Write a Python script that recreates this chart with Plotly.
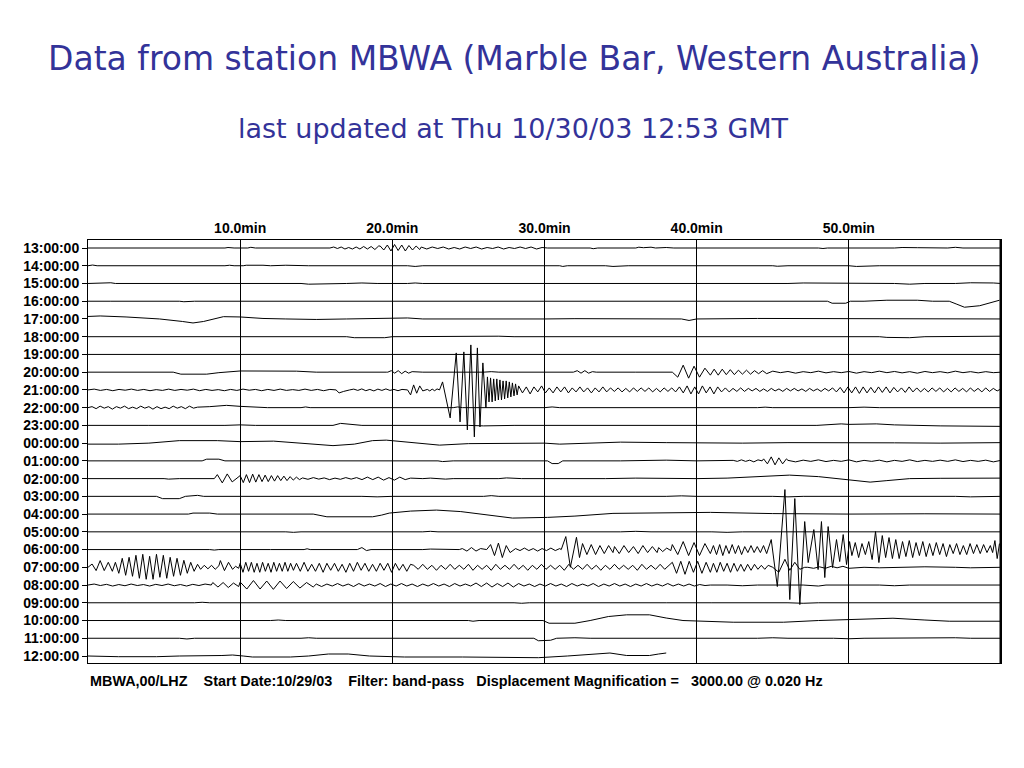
import numpy as np
import plotly.graph_objects as go

# ---------------- data ----------------
row_labels = ["13:00:00", "14:00:00", "15:00:00", "16:00:00", "17:00:00", "18:00:00",
              "19:00:00", "20:00:00", "21:00:00", "22:00:00", "23:00:00", "00:00:00",
              "01:00:00", "02:00:00", "03:00:00", "04:00:00", "05:00:00", "06:00:00",
              "07:00:00", "08:00:00", "09:00:00", "10:00:00", "11:00:00", "12:00:00"]
minute_ticks = [10, 20, 30, 40, 50]
minute_text = ["10.0min", "20.0min", "30.0min", "40.0min", "50.0min"]

# each trace: list of parts; ("p", [(minute, counts), ...]) anchor points,
# ("w", t_start, t_end, [counts ...]) evenly sampled wiggle values read off the record
tr_13 = [("p", [(0, 0), (0.8, 0), (1.0, -0.7), (1.2, 0), (5.9, 0), (6.0, -0.7), (6.1, 0), (9, 0), (9.2, 0.5), (9.6, 0),
                (10.5, 0), (10.7, 0.7), (11, 0), (13.5, 0), (13.7, 0.5), (14, 0), (15.5, 0)]),
         ("w", 15.9, 19.1, [0, 1, -0.5, 1, -1, 0.5, -1, 1, -1, 1.5, -1, 1.5, -1.5, 2]),
         ("w", 19.2, 21.8, [2, -2, 3, -3, 3.5, -2.5, 3, -3, 2.5, -2, 2, -1.5]),
         ("w", 21.9, 30.2, [1, -1, 1, -0.5, 1, -1, 0.5, -1, 1, -0.5, 1, -1, 0.5, -0.5, 1, -1, 0.5, -0.5, 1, -0.5, 1, -1, 0.5, 0]),
         ("p", [(31, 0), (31.3, 0.7), (31.6, 0), (33, 0), (33.2, -0.7), (33.5, 0), (36, 0), (36.2, 0.8), (36.5, 0.3), (37, 0.8),
                (37.3, 0), (38, 0.5), (38.5, 0), (40, 0), (40.5, 0.5), (41.5, 0.5), (42, 0), (45, 0), (45.3, 0.5), (46, 0),
                (48, 0), (48.3, -0.5), (48.6, 0), (53, 0), (53.5, 0.5), (54.5, 0.3), (55.5, 0), (56.5, 0), (57, 0.7), (57.5, 0), (60, 0)])]
tr_14 = [("p", [(0, 0), (0.3, 0.7), (0.6, 0), (4.5, 0), (4.6, -0.7), (4.8, 0), (9, 0), (9.3, 0.5), (9.6, 0), (10.2, 0), (10.4, 0.5),
                (11.5, 0.5), (12, 0), (13, 0.5), (14.5, 0), (21, 0), (21.5, -0.7), (22, 0), (25, 0), (25.3, 0.7), (26, 0),
                (28, 0), (28.2, 0.7), (28.6, 0), (31, 0), (31.2, -0.7), (31.5, 0), (34, 0), (34.5, -0.7), (35.5, 0), (38, 0),
                (38.5, 0.7), (39, 0), (45, 0), (45.3, -0.5), (46, 0), (50, 0), (50.5, -0.7), (52, 0), (54, 0), (55, -0.7), (56, 0), (60, 0)])]
tr_15 = [("p", [(0, 0), (1.5, 0.7), (1.8, 0), (10, 0), (10.3, 0.7), (10.8, 0), (14, 0), (14.5, -0.7), (16, -0.7), (17, 0), (18, 0.5),
                (19, 0), (21, 0), (21.5, 0.5), (22, 0), (26, 0), (26.5, -0.7), (27, 0), (33, 0), (33.5, -0.7), (35, 0), (40, 0),
                (40.5, -0.7), (42, 0), (46, 0), (47, 0.5), (49, 0.5), (50, 0), (53, 0), (54, -0.7), (55, 0), (57, 0), (58, 0.7),
                (59.5, 0.5), (60, 0)])]
tr_16 = [("p", [(0, 0), (1, 0.5), (1.5, 0), (6, 0), (6.3, -0.5), (7, 0), (13, 0), (13.5, 0.7), (15, 0.5), (16, 0), (22, 0), (24, 0.5),
                (25, 0), (27, 0), (29, 0.7), (30, 0), (34, 0.5), (35, 0), (40, 0), (41, 0.5), (43, 0), (48.6, 0), (48.9, -2),
                (49.8, -2), (50.1, 0), (51, 0), (52.5, 1), (54.5, 1), (55.5, 0), (56.6, 0), (57.1, -3), (57.6, -6), (58.6, -4.5),
                (59.3, -1.5), (59.9, 1)])]
tr_17 = [("p", [(0, 2.5), (0.8, 3), (2.5, 2), (4.7, 0), (6.2, -2.5), (6.9, -4), (7.6, -2.5), (8.9, 2.3), (10, 2), (11.5, 0.5),
                (13, 0), (15, -0.5), (17, 0), (20, 0.5), (21, 1), (22, 0), (26, 0), (27, -0.7), (30, 0), (32, 0.3), (39, 0),
                (39.5, -1.5), (40, 0), (44, 0.5), (50, 0.5), (51, 0), (54, 0.5), (60, 0)])]
tr_18 = [("p", [(0, 0), (5, 0), (5.2, 0.5), (6, 0.5), (6.3, 0), (10, 0), (12, 0.7), (12.5, 0), (17, 0), (17.5, -1), (19.5, -1),
                (20, 0), (23, 0.5), (27, 0.5), (28, 0), (32, 0), (33, 0.7), (34, 0), (40, 0), (42, 0.7), (43, 0), (52, 0),
                (52.5, -0.7), (54, -1), (55, 0), (57, 0.5), (60, 0.5)])]
tr_19 = [("p", [(0, 0), (5, 0), (5.5, 0.7), (6.5, 0), (27, 0), (28, 0.5), (29, 0), (42, 0), (44, 0.5), (45, 0), (53, 0),
                (54, 0.7), (55, 0), (60, 0)])]
tr_20 = [("p", [(0, 0), (5.6, 0), (6.1, -2), (7.8, -2), (8.6, -0.5), (10, 1.2), (13.7, 1), (15, 0), (19.6, 0)]),
         ("w", 19.7, 21.3, [0, 1.5, -1, 1.5, -1.5, 1, -1, 0.5]),
         ("p", [(22, 0), (26, 0), (26.5, 0.5), (27, 0), (31.8, 0)]),
         ("w", 31.9, 33.4, [0, 1.5, -1, 1.5, -1, 0.5, 0]),
         ("p", [(36, 0), (38.2, 0)]),
         ("w", 38.4, 40.9, [0, -5, 7, -6, 6, -5, 4, -3]),
         ("w", 41.15, 44.6, [3, -3, 3, -2.5, 2.5, -2.5, 2, -2, 2, -2, 1.5, -1.5, 1.5, -1.5]),
         ("w", 45, 60, [1, -0.5, 0.7, -1, 0.5, -0.5, 1, -0.7, 0.5, -0.5, 0.7, -1, 0.5, -0.5, 1, -0.5, 0.7, -0.7, 0.5, -1,
                        0.7, -0.5, 0.5, -0.7, 1, -0.5, 0.5, -0.7, 0.5, -0.5, 0])]
tr_21 = [("w", 0, 16.3, [0, 0.8, -0.5, 0.5, -0.8, 0.5, -0.3, 0.8, -0.5, 0.5, -0.8, 0.3, -0.5, 0.8, -0.5, 0.5, -0.3, 0.8, -0.8,
                         0.5, -0.5, 0.3, -0.8, 0.5, -0.5, 0.8, -0.3, 0.5, -0.8, 0.5, -0.5, 0.8, -0.5, 0.3, -0.5, 0.8, -0.5,
                         0.5, -0.8, 0.5, 0]),
         ("p", [(16.5, -3), (16.8, -1.5), (17.1, 0)]),
         ("w", 17.2, 20.9, [0, 0.8, -0.5, 1, -0.8, 0.5, -1, 0.8, -0.5, 1, -0.5, 0.5, -0.8, 0.5, 0]),
         ("w", 21.0, 22.2, [0, -5, 5, -3.3, 4, -1, 0]),
         ("w", 22.3, 23.1, [0.5, -1, 0.8, -0.8, 1, 0]),
         ("p", [(23.3, 8), (23.8, -28), (24.2, 37), (24.45, -32), (24.7, 38), (24.93, -40), (25.16, 45), (25.39, -47),
                (25.59, 42), (25.76, -37), (25.95, 27), (26.15, -18)]),
         ("w", 26.25, 28.2, [13, -12, 12, -12, 11, -11, 11, -10, 10, -10, 9, -9, 9, -8, 8, -7, 7, -6, 6, -5]),
         ("w", 28.3, 60, [4, -3, 3, -4, 3, -2, 4, -3, 2, -3, 3, -2, 3, -3, 2, -2,
                          3, -2, 2, -3, 2, -2, 3, -2, 2, -1.5, 2, -2, 1.5, -2, 2, -1.5,
                          2, -1.5, 2, -2, 1.5, -2, 2, -1.5, 2, -2, 3, -3, 4, -4, 3, -4,
                          4, -3, 3, -4, 3, -2, 2, -2, 1.5, -1.5, 2, -1.5, 1.5, -1, 1.5, -1.5,
                          1, -1.5, 1.5, -1, 1, -1.5, 1.5, -1, 1.5, -1, 1, -1.5, 1.5, -1, 1, -1.5,
                          1.5, -1, 2, -2, 2.5, -3, 3, -3, 3, -3.5, 3, -3, 2.5, -3, 3, -2.5,
                          3, -3, 2.5, -2, 2, -2.5, 3, -2, 2, -2, 1.5, -2, 2, -1.5, 2, -2,
                          1.5, -2, 2, -1.5, 1.5, -2, 2, -1.5, 1.5, -2, 2, -1.5, 1.5, -1, 1])]
tr_22 = [("w", 0, 7.2, [0, 1, -1, 1.5, -0.5, 1, -1.5, 1, -0.5, 1.5, -1, 0.5, -1, 1.5, -0.5, 1, -1.5, 1, -1, 0.5, -1, 1.5,
                        -0.5, 1, -1, 1.5, -0.5, 0.5]),
         ("p", [(8, 1), (9.1, 2.3), (10, 1.3), (11.8, 0), (14, 0), (14.3, 0.7), (14.6, 0), (18, 0), (18.5, -0.7), (19, 0),
                (24, 0), (24.3, 0.7), (24.6, 0), (30, 0), (30.5, 0.7), (31, 0), (37, 0), (37.5, -0.5), (38, 0), (44, 0),
                (44.5, 0.5), (45, 0), (50, 0), (51, 0.5), (52, 0), (56, 0), (57, -0.5), (58, 0), (60, 0)])]
tr_23 = [("p", [(0, 0), (3, 0.5), (4, 0), (9, 0), (10, 0.5), (11, 0), (16.1, 0), (16.6, 2), (17.3, 1), (18, 0), (25, 0),
                (26, -0.5), (28, 0), (32, 0), (36, 0.5), (37, 0), (42, 0), (47.9, 0), (49.5, 1.5), (50, 1), (51.8, 1.5),
                (53, 0.5), (56, -0.5), (60, -1)])]
tr_00 = [("p", [(0, -1), (2, -1), (4, 0), (6, 2.5), (8.5, 2.5), (10, 1.5), (12.2, 2), (14, 0), (16.1, -2.5), (17.5, -1),
                (18.7, 2.5), (19.6, 3), (21, 1), (23.1, -2), (25, -0.5), (27, 0), (30, 0), (31, -1), (33, 0), (35, 1),
                (38, 0.5), (40, 0), (43, 0), (46, 0.5), (50, 0), (53, 0.3), (56, 0), (60, 0.5)])]
tr_01 = [("p", [(0, 0), (3, 0), (3.3, 0.5), (4, 0), (7.5, 0), (7.8, 1.7), (8.6, 1.7), (9, 0), (12, 0), (12.3, 0.5), (13, 0),
                (18, 0), (18.5, 0.7), (19, 0), (23, 0), (23.3, -0.7), (24, 0), (30.2, 0), (30.5, -2.7), (30.9, -2.7),
                (31.2, 0), (35, 0), (38, 0.7), (40, 0), (42.3, 0)]),
         ("w", 42.4, 44.3, [0.5, -0.5, 1, -0.5, 0.7, -1, 1, 0]),
         ("w", 44.4, 45.9, [2, -3, 4, -4, 3, -3, 2]),
         ("w", 46, 60, [0.5, -1, 0.7, -0.5, 1, -0.7, 0.5, -0.5, 1, -1, 0.5, -0.5, 0.7, -1, 0.5, -0.5, 1, -0.7, 0.5,
                        -0.5, 0.7, -0.5, 1, -0.7, 0.5, -0.5, 0.7, -1, 0.5])]
tr_02 = [("p", [(0, 0), (2, 0), (2.3, 0.7), (2.6, 0), (5, 0), (5.3, -0.5), (6, 0), (8.3, 0)]),
         ("w", 8.5, 9.8, [4, -4.3, 4.7, -3.3, 1]),
         ("w", 10, 13.9, [3, -4, 4, -4, 4.5, -3.5, 4, -3, 3.5, -3, 3, -2.5, 3, -2, 2.5, -2, 2, -1.5, 1.5, -1]),
         ("w", 14.1, 21.2, [0.7, -0.7, 1, -0.5, 0.7, -1, 0.5, -0.7, 1, -0.5, 1, -1, 1.5, -1, 1.5, -1.5, 1, -1.5, 1.5, -1, 0.5]),
         ("p", [(22, 0), (22.5, 0.5), (23.5, -0.5), (24, 0), (27, 0), (27.5, 0.7), (28.5, 0), (32, 0), (33, -0.5), (34, 0),
                (36, 0.5), (38, 0), (40, 0), (42, 0.5), (44, 2), (46.1, 3.5), (48, 2), (50, -1), (51.4, -3.5), (52.5, -2),
                (54, 0), (56, 0.3), (60, 0.5)])]
tr_03 = [("p", [(0, 0), (4.5, 0), (4.9, -2.3), (6, -2.3), (6.4, 0), (7.2, 1), (7.6, 0), (12, 0), (12.5, 0.5), (13, 0), (18, 0),
                (19, -0.5), (20, 0), (26, 0), (26.5, 0.7), (27, 0), (32, 0), (32.5, -0.5), (33, 0), (38, 0), (39, 0.5),
                (40, 0), (45, 0), (46, -0.5), (47, 0), (50, 0), (52, 0.5), (53, 0), (57, 0), (58, -0.5), (60, 0)])]
tr_04 = [("p", [(0, 0), (6.6, 0), (6.9, 1), (8, 1), (8.5, 0), (14.8, 0), (15.7, -2.7), (18.7, -2.7), (19.3, -1), (19.8, 1),
                (21.2, 3), (22.9, 4), (24.5, 2.5), (26.5, -1.5), (27.9, -4), (30.2, -3.3), (32, -2), (34.5, 0.7),
                (40.9, 1.7), (45, 0.5), (50, 0), (55, 0.3), (60, 0)])]
tr_05 = [("p", [(0, 0), (10.7, 0), (11, 0.7), (11.5, 0), (13, 0), (13.5, -0.5), (14, 0), (22, 0), (22.5, 0.5), (23, 0),
                (28, 0), (28.5, -0.5), (29, 0), (35, 0), (36, 0.5), (37, 0), (41, 0), (42, -0.5), (43, 0), (49, 0),
                (50, 0.5), (51, 0), (55, 0), (56, 0.5), (57, 0), (60, 0)])]
tr_06 = [("p", [(0, 0), (3, 0), (3.3, 0.5), (3.6, 0), (8, 0), (8.3, -0.5), (8.6, 0), (12, 0), (14.2, 0), (14.4, 0.8),
                (14.6, 0), (17.7, 0), (18, 2), (18.3, -1), (18.6, 0), (22, 0), (22.5, 0.5), (24.4, 0)]),
         ("w", 24.6, 25.8, [1, -1.5, 2, -1.5, 1]),
         ("w", 26.2, 28.0, [0, 5, -6, 6.5, -8, 4, -3, 0]),
         ("w", 28.1, 31.0, [1, -1, 1.5, -1, 1, -1.5, 1, -1, 1.5, -1, 1]),
         ("p", [(31.1, 0), (31.4, 13), (31.7, -17.7), (32.1, 12.3), (32.3, -8)]),
         ("w", 32.5, 34.5, [6, -5, 5, -5, 4, -4, 4, -3]),
         ("w", 34.6, 37.4, [3, -4, 4, -3, 3, -4, 4, -3, 3, -3]),
         ("w", 37.5, 38.3, [2, -2, 1.5, -1]),
         ("w", 38.4, 40.9, [5, -5, 8, -6, 7, -6, 6, -4]),
         ("w", 41.1, 44.6, [4, -5, 5, -6, 4, -4, 5, -4, 4, -5, 3, -3, 4, -3, 3, -3, 4, -4]),
         ("p", [(44.9, 10), (45.3, -37), (45.8, 60), (46.12, -50), (46.45, 51), (46.78, -55), (47.1, 28), (47.33, -13),
                (47.7, 20), (47.98, -20), (48.2, 28), (48.42, -28), (48.64, 23), (48.93, -18), (49.19, 10), (49.4, -12),
                (49.63, 15), (49.85, -15), (50.05, 8)]),
         ("w", 50.2, 59.3, [-6, 7, -8, 6, -5, 8, -10, 18, -13, 14, -8, 12, -9, 10, -9, 8, -7, 9, -8, 7, -6, 8, -7, 6,
                            -6, 7, -5, 6, -7, 5, -4, 6, -5, 4, -5, 6, -4, 5, -4, 5, -3, 4]),
         ("p", [(59.45, -3), (59.6, 9), (59.75, -9), (59.9, 6)])]
tr_07 = [("w", 0, 1.6, [0, 3.3, -3.3, 6.7, -3.3, 5, -4]),
         ("w", 1.8, 7.2, [5, -6, 9, -8, 10, -9, 12, -11, 13, -12, 11, -12, 13, -10, 12, -11, 10, -9, 9, -8, 7, -6, 5, -4, 3]),
         ("w", 7.4, 8.6, [-2, 2, -1.5, 2, -2, 1.5]),
         ("w", 8.7, 9.5, [6.7, -3.3, 5, -2]),
         ("w", 9.7, 9.9, [1, -1]),
         ("w", 10, 13.5, [4, -5, 5, -4, 5, -5, 4, -5, 5, -4, 4, -5, 5, -4, 4, -4, 5, -4, 4, -3]),
         ("w", 13.7, 21.2, [4, -4, 5, -4, 3, -4, 4, -5, 4, -3, 4, -4, 3, -5, 4, -4, 5, -3, 4, -4, 3, -4, 4, -3, 4, -5,
                            4, -3, 3, -4, 3]),
         ("w", 21.4, 38.2, [2, -2, 3, -2, 2, -3, 2, -2, 3, -2, 2, -2, 3, -3, 2, -2, 2, -3, 3, -2, 2, -2, 3, -2, 2, -3,
                            2, -2, 3, -2, 2, -2, 2, -3, 3, -2, 2, -2, 3, -2, 2, -3, 2, -2, 3, -2, 2, -2, 2, -3, 3, -2,
                            2, -2, 3, -2, 2]),
         ("w", 38.4, 40.9, [5, -6, 6, -7, 6, -5, 6, -6, 5, -5]),
         ("w", 41.1, 44.7, [4, -5, 5, -4, 4, -5, 4, -4, 3, -4, 3, -3, 3, -2, 2, -2, 2]),
         ("p", [(45.0, 0), (45.4, -5), (45.8, 8), (46.12, -3), (46.45, 5), (46.78, -2), (47.1, 0)]),
         ("w", 47.3, 50, [0, -1, 0.5, -1, 1, -0.5, 1, -1]),
         ("p", [(51, 0), (52, -0.5), (53, 0), (55, 0.5), (57, 0), (58, -0.5), (60, 0)])]
tr_08 = [("w", 0, 8.1, [0, 1, -0.5, 0.7, -1, 0.5, -0.7, 1, -0.5, 0.5, -1, 0.7, -0.5, 1, -0.7, 0.5, -1, 0.7, -0.5, 1, 0]),
         ("w", 8.2, 9.9, [2.5, -2, 2.5, -2.5, 2, -1.5]),
         ("w", 10, 14.8, [3, -4, 4.5, -4, 4, -4.3, 4, -3.5, 3.5, -3, 2.5, -2]),
         ("w", 15, 40.9, [1, -1.5, 1, -1, 1.5, -1, 1, -1.5, 1.5, -1, 1, -1, 1.5, -1.5, 1, -1, 1.5, -1, 1, -1.5,
                          1, -1, 1.5, -1, 1, -1.5, 1.5, -1, 1, -1, 2, -1.5, 2, -2, 1.5, -1.5, 2, -2, 1.5, -1,
                          1, -1.5, 1, -1, 1.5, -1, 1, -1.5, 1.5, -1, 1, -1, 1.5, -1.5, 1, -1, 1.5, -1, 1, -1.5,
                          1, -1, 1.5, -1, 1, -1, 1.5, -1, 1, -1, 1, -1, 0.5, -0.5, 0]),
         ("p", [(42, 0), (43, -0.7), (44, 0), (47, 0), (48, -1), (48.5, 0), (52, 0), (53, -0.7), (54, 0), (57, 0),
                (58, -0.5), (60, 0)])]
tr_09 = [("p", [(0, 0), (2, 0.5), (2.5, 0), (7, 0), (7.5, 0.5), (8, 0), (13, 0), (14, 0.5), (15, 0), (20, 0), (21, 0.5),
                (22, 0), (28, 0), (28.5, -0.5), (29, 0), (38, 0), (40, 0.5), (41, 0), (46, 0), (47, -0.5), (48, 0),
                (53, 0), (54, 0.5), (55, 0), (60, 0)])]
tr_10 = [("p", [(0, 0), (3, 0), (3.5, -0.5), (4, 0), (12, 0), (12.5, 0.5), (13, 0), (25, 0), (25.3, -0.7), (25.7, 0),
                (29.9, 0), (30.3, -2.7), (32, -2.7), (33, 0), (34.2, 4), (35.4, 5.7), (36.9, 5.7), (38, 2.5), (39.1, 0),
                (42.4, -1.7), (45.7, -1.7), (48, 0), (50, 1), (52.9, 2.3), (55, 0.5), (56.6, -0.7), (60, -0.7)])]
tr_11 = [("p", [(0, 0), (1, 0), (1.3, 0.5), (1.6, 0), (6, 0), (6.5, -0.7), (7, 0), (14, 0), (14.5, 0.5), (15, 0), (22, 0),
                (29.3, 0), (29.6, -2.5), (30.4, -2), (30.8, 0), (32, 0.5), (33, 0), (37, 0), (38, -0.5), (39, 0),
                (44, 0), (45, 0.5), (46, 0), (49, 0), (50, -0.5), (51, 0), (55, 0.5), (57, 0.5), (58, 0), (60, 0)])]
tr_12 = [("p", [(0, 0), (2, -0.7), (4.5, -0.7), (6, 0), (8.8, 0.5), (9.5, 1), (10.2, 0), (10.8, -1), (13.3, -1), (14.5, 0),
                (15.8, 2), (17.1, 2), (18.5, 0), (20.8, -1), (24.6, -1), (27.1, -1.7), (29.6, -1.7), (31.5, 0),
                (33.4, 2.3), (34.3, 3), (35.4, 0.5), (36.9, 0.5), (37.5, 2), (38.0, 3)])]

traces = [tr_13, tr_14, tr_15, tr_16, tr_17, tr_18, tr_19, tr_20, tr_21, tr_22, tr_23, tr_00,
          tr_01, tr_02, tr_03, tr_04, tr_05, tr_06, tr_07, tr_08, tr_09, tr_10, tr_11, tr_12]

title_text = "Data from station MBWA (Marble Bar, Western Australia)"
subtitle_text = "last updated at Thu 10/30/03 12:53 GMT"
NB = "\u00a0"
footer_text = ("MBWA,00/LHZ" + NB * 4 + "Start Date:10/29/03" + NB * 4 + "Filter: band-pass" + NB * 3 +
               "Displacement Magnification =" + NB * 3 + "3000.00 @ 0.020 Hz")

# ---------------- build ----------------
COUNTS_PER_ROW = 17.74


def build(parts):
    pts = []
    for p in parts:
        if p[0] == "p":
            pts.extend(p[1])
        else:
            _, t0, t1, vals = p
            ts = np.linspace(t0, t1, len(vals))
            pts.extend(zip(ts, vals))
    pts.sort(key=lambda a: a[0])
    return [a[0] for a in pts], [a[1] for a in pts]


fig = go.Figure()
for i, parts in enumerate(traces):
    xs, vs = build(parts)
    ys = [-i + v / COUNTS_PER_ROW for v in vs]
    fig.add_trace(go.Scatter(x=xs, y=ys, mode="lines", line=dict(color="black", width=1),
                             hoverinfo="skip", showlegend=False))

# page body adds an 8px margin; size the figure so it sits inside the 1024x768 window
OFF = 8
W, H = 1024 - 2 * OFF, 768 - 2 * OFF
L, T = 88 - OFF, 240 - OFF
R = W - (1001 - OFF)
B = H - (663 - OFF)
ph = H - T - B
pw = W - L - R

fig.update_layout(
    width=W, height=H, paper_bgcolor="white", plot_bgcolor="white",
    margin=dict(l=L, r=R, t=T, b=B, autoexpand=False),
    xaxis=dict(range=[0, 60], side="top", tickvals=minute_ticks, ticktext=minute_text,
               showgrid=True, gridcolor="black", gridwidth=1, zeroline=False,
               showline=True, mirror=True, linecolor="black", linewidth=1, ticks="",
               tickfont=dict(family="Liberation Sans, Arial", size=14, color="black", weight="bold")),
    yaxis=dict(range=[-23 - 7 / COUNTS_PER_ROW, 8 / COUNTS_PER_ROW],
               tickvals=[-i for i in range(len(row_labels))], ticktext=row_labels,
               showgrid=False, zeroline=False, showline=True, mirror=True, linecolor="black", linewidth=1,
               ticks="outside", ticklen=5, tickcolor="black", tickwidth=1,
               tickfont=dict(family="Liberation Sans, Arial", size=14, color="black", weight="bold")),
)

fig.add_shape(type="line", xref="x", yref="paper", x0=60, x1=60, y0=0, y1=1,
              line=dict(color="black", width=3))


def py(pix):
    return (H - (pix - OFF) - B) / ph


def px(pix):
    return (pix - OFF - L) / pw


fig.add_annotation(text=title_text, x=px(514), y=py(58), xref="paper", yref="paper",
                   xanchor="center", yanchor="middle", showarrow=False,
                   font=dict(family="DejaVu Sans", size=33, color="#333399"))
fig.add_annotation(text=subtitle_text, x=px(513), y=py(128), xref="paper", yref="paper",
                   xanchor="center", yanchor="middle", showarrow=False,
                   font=dict(family="DejaVu Sans", size=27, color="#333399"))
fig.add_annotation(text=footer_text, x=px(88), y=py(681), xref="paper", yref="paper",
                   xanchor="left", yanchor="middle", showarrow=False,
                   font=dict(family="Liberation Sans, Arial", size=14.4, color="black", weight="bold"))

fig.write_html("out.html")
